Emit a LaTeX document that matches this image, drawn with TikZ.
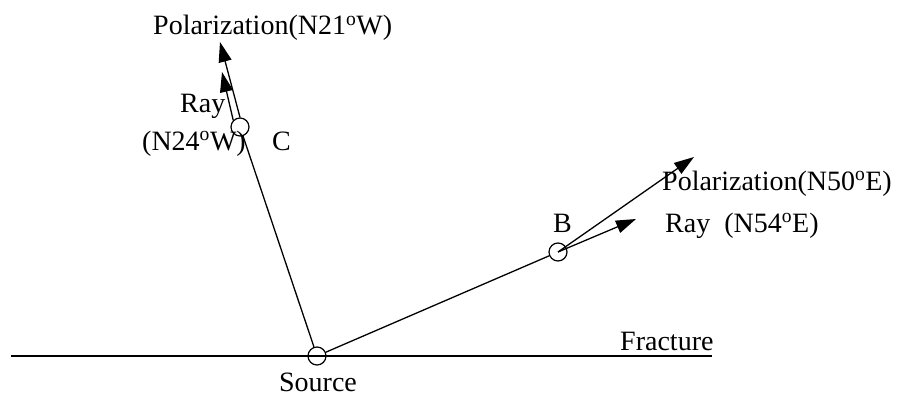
\documentclass[tikz,border=0pt]{standalone}
\usepackage{fontspec}
\setmainfont{Liberation Serif}
\usetikzlibrary{arrows.meta,positioning}

\begin{document}
\begin{tikzpicture}[x=1pt, y=-1pt,
    station/.style={circle, draw, line width=1.2pt, minimum size=18pt, inner sep=0pt},
    lbl/.style={font=\fontsize{28}{32}\selectfont, inner sep=0pt, anchor=base west},
    ray/.style={-{Triangle[length=20pt, width=13pt]}, line width=1.3pt}
]
    \useasboundingbox (0,0) rectangle (901,398);

    % fracture plane and source
    \coordinate (fracL) at (11,356);
    \coordinate (fracR) at (712,356);
    \draw[line width=1.8pt] (fracL) -- (fracR);
    \node[station] (src) at (317,356) {};
    \node[lbl, anchor=base] (srcLbl) at (318,391) {Source};
    \node[lbl] (fracLbl) at (620,350) {Fracture};

    % station C
    \node[station] (stC) at (240,127) {};
    \node[lbl] (cLbl) at (272,151) {C};
    \coordinate (polCtip) at (220,42);
    \coordinate (rayCtip) at (222,72);
    \draw[line width=1.3pt] (src) -- (stC);
    \draw[ray] (stC.north) -- (polCtip);
    \draw[ray] (stC.north west) -- (rayCtip);
    \node[lbl] (polC) at (153,35) {Polarization(N21\textsuperscript{o}W)};
    \node[lbl] (rayC) at (180,113) {Ray};
    \node[lbl] (rayCang) at (142,150) {(N24\textsuperscript{o}W)};

    % station B
    \node[station] (stB) at (558,252) {};
    \node[lbl] (bLbl) at (553,232) {B};
    \coordinate (polBtip) at (694,157);
    \coordinate (rayBtip) at (636,219);
    \draw[line width=1.3pt] (src) -- (stB);
    \draw[ray] (stB.center) -- (polBtip);
    \draw[ray] (stB.center) -- (rayBtip);
    \node[lbl] (polB) at (662,190) {Polarization(N50\textsuperscript{o}E)};
    \node[lbl] (rayB) at (665,232) {Ray\ \ (N54\textsuperscript{o}E)};
\end{tikzpicture}
\end{document}
